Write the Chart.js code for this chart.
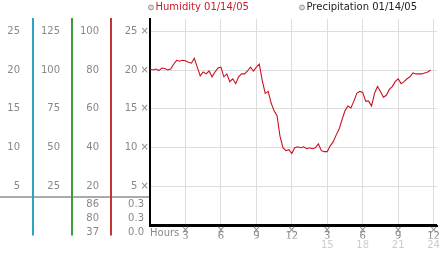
<!DOCTYPE html>
<html>
<head>
<meta charset="utf-8">
<script src="https://cdn.jsdelivr.net/npm/chart.js@4.4.1/dist/chart.umd.min.js"></script>
<style>
  html, body { margin: 0; padding: 0; background: #fff; }
  canvas { display: block; }
</style>
</head>
<body>
<canvas id="weatherChart" width="442" height="253"></canvas>
<script>
// humidity readings (%), one every 15 minutes on 01/14/05
const humidity = [
    80.5, 80, 80.5, 79.7, 81, 80.8, 80, 80.5, 83, 85,
    84.5, 85, 84.8, 84, 83.5, 86, 81.5, 77, 79, 78,
    79.5, 76.5, 79, 81, 81.5, 76.5, 78, 74, 75.5, 73,
    76.5, 78, 78, 79.5, 81.5, 79.5, 81.5, 83, 74.5, 68,
    69, 63, 59, 56.5, 46, 40, 38.5, 39, 37, 40,
    40.5, 40, 40.5, 39.5, 40, 39.5, 40, 42, 38.5, 38,
    38, 41, 43, 46.5, 49.5, 54.5, 59, 61.5, 60.5, 64,
    68, 69, 68.5, 64, 64, 61.5, 68, 71.5, 69, 66,
    67, 70, 71.5, 74, 75.5, 73, 74, 75.5, 76.5, 78.5,
    78, 78, 78, 78.5, 79, 80
];
const readingHours = humidity.map((v, i) => i * 0.25);

const precipHours = [0, 12, 24.3];
const precipitation = [0, 0.3, 0.3];

const clockLabels = ["3", "6", "9", "12", "3", "6", "9", "12"];
const afternoonLabels = ["15", "18", "21", "24"];

const legendLabels = ["Humidity 01/14/05", "Precipitation 01/14/05"];

Chart.defaults.font.family = "'DejaVu Sans', sans-serif";
Chart.defaults.font.size = 10;
Chart.defaults.color = "#888888";

// extra decorations: stats under the left scales, separator, legend
const extras = {
    id: "extras",
    beforeDraw(chart) {
        const ctx = chart.ctx;
        const area = chart.chartArea;
        const s = chart.scales;
        ctx.save();
        ctx.strokeStyle = "#aaaaaa";
        ctx.lineWidth = 2;
        ctx.beginPath();
        ctx.moveTo(0, 197);
        ctx.lineTo(area.left, 197);
        ctx.stroke();
        [["yA", "#2ba3c6"], ["yB", "#3c9c3c"], ["yC", "#c43434"]].forEach(([id, color]) => {
            ctx.strokeStyle = color;
            ctx.beginPath();
            ctx.moveTo(s[id].right, area.bottom - 1);
            ctx.lineTo(s[id].right, area.bottom + 10);
            ctx.stroke();
        });
        ctx.restore();
    },
    afterDraw(chart) {
        const ctx = chart.ctx;
        const s = chart.scales;
        ctx.save();
        ctx.font = "10px 'DejaVu Sans'";
        ctx.textBaseline = "middle";
        ctx.textAlign = "right";
        ctx.fillStyle = "#888888";

        const humStats = [Math.max(...humidity), humidity[humidity.length - 1], Math.min(...humidity)];
        const rainStats = [Math.max(...precipitation), precipitation[precipitation.length - 1], Math.min(...precipitation)];
        const rows = [204.5, 218.5, 232.5];
        rows.forEach((y, i) => {
            ctx.fillText(String(Math.round(humStats[i])), s.yC.right - 12, y);
            ctx.fillText(rainStats[i].toFixed(1), s.yD.right - 6, y);
        });

        // legend
        ctx.textAlign = "left";
        const spots = [151, 302];
        chart.data.datasets.forEach((ds, i) => {
            const x = spots[i];
            ctx.beginPath();
            ctx.arc(x, 7.5, 2.5, 0, Math.PI * 2);
            ctx.fillStyle = "#dddddd";
            ctx.fill();
            ctx.strokeStyle = "#999999";
            ctx.lineWidth = 1;
            ctx.stroke();
            ctx.fillStyle = ds.legendColor;
            ctx.fillText(ds.label, x + 4.5, 7.5);
        });
        ctx.restore();
    }
};

function sideScale(max, step, weight, width, pad, color) {
    return {
        type: "linear",
        position: "left",
        weight: weight,
        min: 0,
        max: max,
        afterFit: (scale) => { scale.width = width; },
        grid: { display: false, drawTicks: false },
        border: { display: true, color: color, width: 2 },
        ticks: {
            stepSize: step,
            includeBounds: false,
            padding: pad,
            color: "#888888",
            callback: (v) => v === 0 ? "" : String(v)
        }
    };
}

const ctx = document.getElementById("weatherChart").getContext("2d");
const weatherChart = new Chart(ctx, {
    type: "line",
    data: {
        datasets: [
            {
                label: legendLabels[0],
                legendColor: "#cc1a2a",
                data: humidity.map((v, i) => ({ x: readingHours[i], y: v })),
                xAxisID: "x",
                yAxisID: "yC",
                borderColor: "#cc1122",
                borderWidth: 1.1,
                pointRadius: 0,
                tension: 0
            },
            {
                label: legendLabels[1],
                legendColor: "#222222",
                data: precipitation.map((v, i) => ({ x: precipHours[i], y: v })),
                xAxisID: "x",
                yAxisID: "yB",
                borderColor: "#000000",
                borderWidth: 2,
                pointRadius: 0,
                stepped: "after"
            }
        ]
    },
    plugins: [extras],
    options: {
        responsive: false,
        animation: false,
        devicePixelRatio: 1,
        layout: {
            padding: { top: 13, right: 1.5, bottom: 0, left: 0 }
        },
        scales: {
            yA: sideScale(26.5625, 5, 4, 33, 13, "#2ba3c6"),
            yB: sideScale(132.8125, 25, 3, 39, 12, "#3c9c3c"),
            yC: sideScale(106.25, 20, 2, 39, 12, "#c43434"),
            yD: {
                type: "linear",
                position: "left",
                weight: 1,
                min: 0,
                max: 26.5625,
                afterFit: (scale) => { scale.width = 39; },
                grid: { color: "#dddddd", drawTicks: false },
                border: { color: "#000000", width: 2 },
                ticks: {
                    stepSize: 5,
                    includeBounds: false,
                    padding: 1,
                    color: "#888888",
                    callback: (v) => v === 0 ? "" : v + " \u00d7"
                }
            },
            x: {
                type: "linear",
                position: "bottom",
                weight: 1,
                min: 0,
                max: 24.3,
                afterFit: (scale) => { scale.height = 13; },
                grid: { color: "#dddddd", drawTicks: false },
                border: { color: "#000000", width: 2 },
                title: {
                    display: true,
                    text: "Hours",
                    align: "start",
                    color: "#888888",
                    padding: 0,
                    font: { size: 10, lineHeight: "11px" }
                },
                ticks: {
                    stepSize: 3,
                    includeBounds: false,
                    autoSkip: false,
                    maxRotation: 0,
                    padding: 2,
                    color: "#888888",
                    font: { size: 10, lineHeight: "6px" },
                    callback: (v) => v === 0 ? "" : ["\u00d7", clockLabels[Math.round(v / 3) - 1]]
                }
            },
            x2: {
                type: "linear",
                position: "bottom",
                weight: 2,
                min: 0,
                max: 24.3,
                afterFit: (scale) => { scale.height = 14.5; },
                grid: { display: false, drawTicks: false },
                border: { display: false },
                ticks: {
                    stepSize: 3,
                    includeBounds: false,
                    autoSkip: false,
                    maxRotation: 0,
                    padding: 1.5,
                    color: "#cccccc",
                    font: { size: 10, lineHeight: "10px" },
                    callback: (v) => v > 12 ? afternoonLabels[Math.round(v / 3) - 5] : ""
                }
            }
        },
        plugins: {
            legend: { display: false },
            tooltip: { enabled: false }
        }
    }
});
</script>
</body>
</html>
